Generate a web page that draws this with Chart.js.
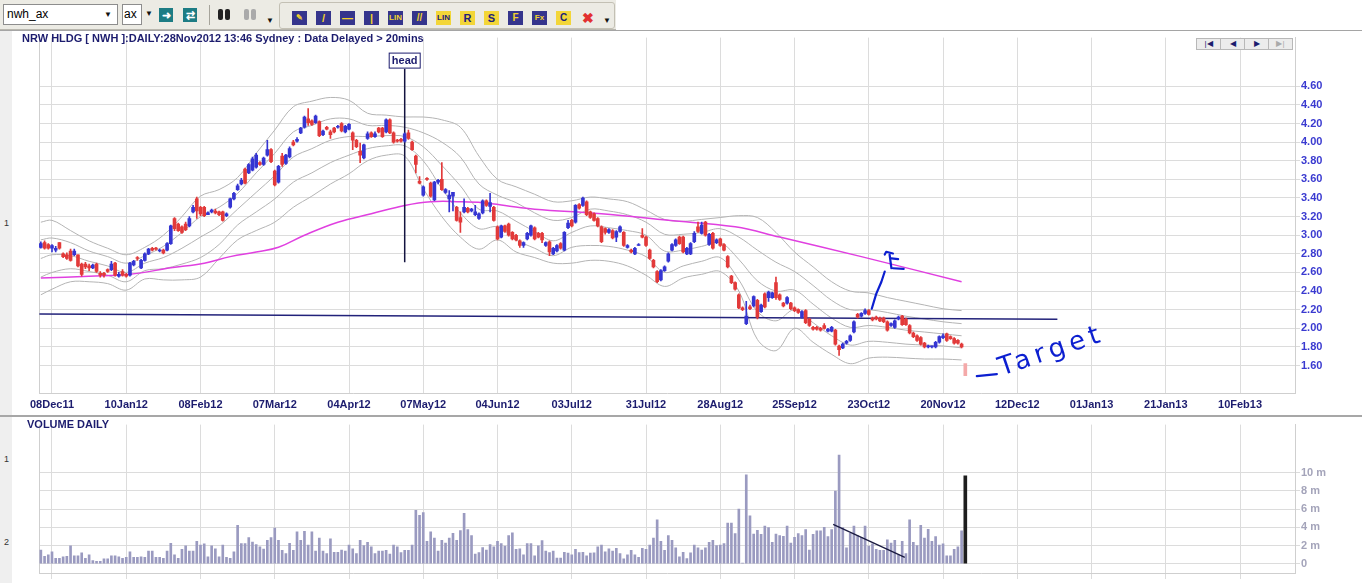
<!DOCTYPE html>
<html>
<head>
<meta charset="utf-8">
<title>NRW HLDG daily</title>
<script src="https://cdn.jsdelivr.net/npm/chart.js@4.4.1/dist/chart.umd.min.js"></script>
<style>
  body { margin:0; width:1362px; height:583px; overflow:hidden; background:#fff; position:relative;
         font-family:"Liberation Sans", Arial, sans-serif; }
  .abs { position:absolute; }
  #toolbar { left:0; top:0; width:616px; height:29px; background:#ecebe4; border-bottom:1px solid #b9b7ae; }
  .box { background:#fff; border:1px solid #8d8d8d; font-size:12px; line-height:19px; height:19px; top:4px; color:#000; }
  .drop { font-size:8px; color:#111; }
  .btn { top:8px; width:14px; height:14px; font-size:11px; font-weight:bold; line-height:14px; text-align:center; }
  .teal { background:#1d7c84; color:#fff; }
  .ico { top:8px; width:15px; height:14px; font-size:8px; font-weight:bold; line-height:14px; text-align:center; }
  .navy { background:#35358c; color:#f2d22c; }
  .yel { background:#f3d638; color:#20207a; }
  #group2 { left:279px; top:2px; width:334px; height:25px; border:1px solid #c3c0b4; border-radius:3px; }
  #strip { left:0; top:31px; width:12px; height:552px; background:#efefef; }
  .side { font-size:9px; color:#333; left:4px; }
  #topline { left:0; top:30px; width:1362px; height:1px; background:#a5a5a5; }
  #sep { left:0; top:415px; width:1362px; height:2px; background:#a7a7a7; }
  #title { left:22px; top:32px; font-size:11px; font-weight:bold; color:#1c1c6e; white-space:nowrap; }
  #voltitle { left:27px; top:418px; font-size:11px; font-weight:bold; color:#1c1c6e; }
  #nav { left:1197px; top:32px; height:10px; }
  #nav span { display:inline-block; width:23px; height:10px; border:1px solid #b8b8b8; margin-left:-1px;
              background:#ececec; font-size:8px; line-height:10px; text-align:center; color:#1c1c6e; }
  canvas { position:absolute; left:0; }
</style>
</head>
<body>

<div id="toolbar" class="abs">
  <div class="abs box" style="left:3px;width:110px;padding-left:3px">nwh_ax<span class="abs drop" style="left:100px;top:0">&#9660;</span></div>
  <div class="abs box" style="left:122px;width:17px;padding-left:1px">ax</div>
  <div class="abs drop" style="left:145px;top:9px">&#9660;</div>
  <div class="abs btn teal" style="left:159px">&#10140;</div>
  <div class="abs btn teal" style="left:183px">&#8644;</div>
  <div class="abs" style="left:209px;top:5px;width:1px;height:20px;background:#a6a49b"></div>
  <div class="abs" style="left:218px;top:9px;width:5px;height:11px;background:#222;border-radius:2px"></div>
  <div class="abs" style="left:225px;top:9px;width:5px;height:11px;background:#222;border-radius:2px"></div>
  <div class="abs" style="left:244px;top:9px;width:5px;height:11px;background:#aaa;border-radius:2px"></div>
  <div class="abs" style="left:251px;top:9px;width:5px;height:11px;background:#aaa;border-radius:2px"></div>
  <div class="abs drop" style="left:266px;top:16px">&#9660;</div>
  <div id="group2" class="abs">
    <div class="abs ico navy" style="left:12px">&#9998;</div>
    <div class="abs ico navy" style="left:36px;font-size:11px">/</div>
    <div class="abs ico navy" style="left:60px;font-size:11px">&#8212;</div>
    <div class="abs ico navy" style="left:84px;font-size:11px">|</div>
    <div class="abs ico navy" style="left:108px">LIN</div>
    <div class="abs ico navy" style="left:132px;font-size:10px">//</div>
    <div class="abs ico yel" style="left:156px">LIN</div>
    <div class="abs ico yel" style="left:180px;font-size:11px">R</div>
    <div class="abs ico yel" style="left:204px;font-size:11px">S</div>
    <div class="abs ico navy" style="left:228px;font-size:10px">F</div>
    <div class="abs ico navy" style="left:252px">Fx</div>
    <div class="abs ico yel" style="left:276px;font-size:10px">C</div>
    <div class="abs ico" style="left:300px;color:#e23030;font-size:14px">&#10006;</div>
    <div class="abs drop" style="left:323px;top:13px">&#9660;</div>
  </div>
</div>

<div id="strip" class="abs"></div>
<div class="abs side" style="top:218px">1</div>
<div class="abs side" style="top:454px">1</div>
<div class="abs side" style="top:537px">2</div>

<canvas id="priceChart" width="1362" height="386" style="top:30px"></canvas>
<canvas id="volChart" width="1362" height="166" style="top:417px"></canvas>

<div id="topline" class="abs"></div>
<div id="sep" class="abs"></div>
<div id="title" class="abs">NRW HLDG [ NWH ]:DAILY:28Nov2012 13:46 Sydney : Data Delayed &gt; 20mins</div>
<div id="voltitle" class="abs">VOLUME DAILY</div>
<div id="nav" class="abs"><span>|&#9664;</span><span>&#9664;</span><span>&#9654;</span><span style="color:#aaa">&#9654;|</span></div>

<script>
// ---- data (x = trading day, 0 = 08Dec11) ----
const firstDay = -3;

const opens = [
  2.87,2.92,2.90,2.86,2.84,2.92,2.80,2.79,2.83,2.79,
  2.79,2.69,2.69,2.67,2.65,2.69,2.59,2.59,2.63,2.63,
  2.70,2.56,2.61,2.58,2.57,2.68,2.76,2.65,2.73,2.80,
  2.86,2.86,2.83,2.84,2.84,2.91,3.18,3.12,3.09,3.12,
  3.10,3.25,3.39,3.30,3.30,3.22,3.25,3.26,3.25,3.25,
  3.21,3.30,3.39,3.49,3.55,3.71,3.67,3.70,3.73,3.78,
  3.76,3.86,3.92,3.69,3.57,3.85,3.77,3.84,4.00,4.01,
  4.10,4.16,4.25,4.23,4.21,4.22,4.08,4.16,4.11,4.15,
  4.16,4.20,4.11,4.14,4.10,4.02,3.90,3.83,4.04,4.10,
  4.06,4.15,4.15,4.11,4.24,4.10,4.02,4.03,4.01,4.10,
  4.00,3.85,3.58,3.43,3.61,3.56,3.38,3.57,3.60,3.46,
  3.39,3.42,3.30,3.19,3.25,3.29,3.26,3.22,3.18,3.24,
  3.37,3.31,3.30,3.09,2.98,3.10,3.12,3.03,3.00,2.94,
  2.89,2.96,3.00,3.08,3.02,3.02,2.89,2.93,2.80,2.83,
  2.91,2.84,3.08,3.16,3.14,3.33,3.32,3.36,3.25,3.23,
  3.18,3.09,3.07,3.03,3.05,2.98,3.04,3.03,2.87,2.84,
  2.80,2.89,3.00,2.98,2.84,2.73,2.61,2.52,2.62,2.72,
  2.84,2.89,2.98,2.98,2.80,2.80,2.93,3.09,3.02,3.14,
  2.90,3.02,2.92,2.96,2.90,2.77,2.56,2.49,2.36,2.22,
  2.05,2.23,2.24,2.30,2.18,2.37,2.33,2.33,2.49,2.36,
  2.27,2.27,2.27,2.22,2.20,2.12,2.19,2.10,2.01,2.01,
  2.00,2.03,1.97,1.97,1.98,1.81,1.79,1.84,1.87,1.96,
  2.15,2.13,2.16,2.19,2.11,2.12,2.11,2.11,2.07,2.03,
  2.01,2.10,2.13,2.10,2.03,1.95,1.92,1.90,1.84,1.80,
  1.80,1.80,1.85,1.90,1.94,1.91,1.89,1.87,1.83
];
const highs = [
  2.93,2.94,2.91,2.90,2.88,2.92,2.81,2.81,2.85,2.85,
  2.79,2.70,2.71,2.69,2.69,2.70,2.61,2.60,2.64,2.72,
  2.71,2.60,2.63,2.59,2.71,2.73,2.77,2.74,2.81,2.86,
  2.87,2.87,2.85,2.85,2.92,3.11,3.19,3.13,3.10,3.14,
  3.20,3.32,3.41,3.31,3.31,3.25,3.28,3.28,3.26,3.26,
  3.24,3.40,3.46,3.55,3.61,3.72,3.77,3.84,3.88,3.79,
  3.84,4.02,3.93,3.70,3.75,3.88,3.87,3.95,4.02,4.05,
  4.16,4.28,4.36,4.24,4.29,4.23,4.13,4.17,4.13,4.16,
  4.18,4.21,4.18,4.20,4.11,4.03,3.99,3.98,4.11,4.11,
  4.11,4.16,4.16,4.25,4.25,4.11,4.03,4.04,4.10,4.13,
  4.01,3.86,3.63,3.53,3.62,3.57,3.58,3.60,3.78,3.50,
  3.48,3.46,3.31,3.25,3.39,3.30,3.29,3.32,3.24,3.38,
  3.38,3.45,3.31,3.10,3.11,3.11,3.13,3.04,3.01,2.95,
  2.93,3.03,3.11,3.09,3.03,3.03,2.93,2.94,2.87,2.90,
  2.92,3.04,3.16,3.17,3.33,3.34,3.41,3.37,3.26,3.24,
  3.19,3.10,3.08,3.07,3.06,3.05,3.10,3.04,2.90,2.85,
  2.87,2.91,3.07,2.99,2.85,2.74,2.62,2.63,2.67,2.81,
  2.91,2.96,2.99,2.99,2.87,2.92,3.04,3.14,3.14,3.15,
  3.02,3.03,2.96,2.97,2.91,2.78,2.57,2.50,2.37,2.23,
  2.29,2.25,2.35,2.31,2.26,2.38,2.40,2.39,2.55,2.37,
  2.28,2.34,2.28,2.23,2.21,2.19,2.20,2.11,2.02,2.02,
  2.01,2.05,2.00,2.02,1.99,1.82,1.84,1.87,1.93,2.08,
  2.16,2.17,2.21,2.20,2.12,2.13,2.12,2.12,2.08,2.06,
  2.09,2.13,2.14,2.11,2.04,1.96,1.93,1.91,1.85,1.82,
  1.81,1.86,1.92,1.94,1.95,1.92,1.90,1.88,1.84
];
const lows = [
  2.86,2.85,2.85,2.82,2.82,2.85,2.76,2.74,2.72,2.78,
  2.66,2.56,2.64,2.62,2.64,2.60,2.55,2.55,2.60,2.62,
  2.56,2.55,2.56,2.55,2.56,2.67,2.73,2.64,2.72,2.79,
  2.83,2.84,2.82,2.80,2.83,2.90,3.05,3.04,3.02,3.05,
  3.09,3.24,3.18,3.21,3.20,3.22,3.24,3.23,3.21,3.15,
  3.20,3.29,3.38,3.48,3.54,3.55,3.66,3.69,3.72,3.75,
  3.75,3.85,3.78,3.53,3.56,3.74,3.76,3.83,3.96,4.00,
  4.09,4.15,4.18,4.18,4.20,4.06,4.07,4.13,4.04,4.10,
  4.15,4.11,4.10,4.13,3.92,3.94,3.78,3.82,4.03,4.05,
  4.05,4.10,4.05,4.10,4.09,3.99,4.00,4.00,4.00,4.03,
  3.91,3.67,3.55,3.42,3.59,3.41,3.37,3.55,3.48,3.45,
  3.25,3.26,3.15,3.03,3.24,3.24,3.25,3.21,3.17,3.23,
  3.31,3.25,3.15,2.95,2.97,3.03,2.99,2.95,2.94,2.87,
  2.87,2.95,2.99,2.95,2.97,2.92,2.88,2.78,2.79,2.82,
  2.85,2.83,3.07,3.09,3.13,3.28,3.31,3.21,3.18,3.15,
  3.09,2.92,3.01,3.02,2.96,2.93,3.03,2.88,2.86,2.81,
  2.79,2.89,2.97,2.88,2.74,2.65,2.49,2.51,2.61,2.71,
  2.83,2.88,2.90,2.81,2.79,2.79,2.92,3.03,3.01,2.99,
  2.89,2.85,2.91,2.88,2.83,2.65,2.48,2.41,2.21,2.19,
  2.04,2.20,2.23,2.10,2.17,2.22,2.29,2.32,2.31,2.30,
  2.23,2.26,2.20,2.18,2.16,2.11,2.05,2.02,1.98,1.98,
  1.97,1.99,1.96,1.96,1.82,1.71,1.78,1.83,1.86,1.95,
  2.11,2.12,2.15,2.14,2.08,2.09,2.07,2.06,1.97,2.02,
  2.00,2.09,2.03,2.03,1.94,1.90,1.86,1.82,1.79,1.79,
  1.79,1.79,1.84,1.89,1.86,1.88,1.83,1.83,1.79
];
const closes = [
  2.91,2.86,2.86,2.89,2.86,2.86,2.77,2.75,2.73,2.83,
  2.67,2.58,2.66,2.65,2.68,2.61,2.57,2.57,2.61,2.69,
  2.57,2.58,2.57,2.56,2.70,2.72,2.75,2.73,2.80,2.85,
  2.84,2.85,2.84,2.81,2.91,3.10,3.07,3.05,3.03,3.06,
  3.18,3.30,3.26,3.23,3.21,3.24,3.27,3.24,3.22,3.16,
  3.23,3.39,3.45,3.53,3.59,3.56,3.76,3.82,3.86,3.76,
  3.83,3.92,3.79,3.54,3.74,3.76,3.86,3.93,3.97,4.03,
  4.15,4.27,4.21,4.19,4.28,4.07,4.12,4.14,4.08,4.11,
  4.17,4.12,4.17,4.19,4.02,3.95,3.86,3.97,4.09,4.06,
  4.09,4.11,4.06,4.24,4.10,4.00,4.01,4.01,4.09,4.04,
  3.92,3.76,3.56,3.52,3.60,3.42,3.57,3.59,3.49,3.49,
  3.43,3.46,3.16,3.14,3.30,3.25,3.28,3.25,3.23,3.37,
  3.32,3.35,3.16,2.96,3.10,3.04,3.00,2.96,2.95,2.89,
  2.92,3.02,3.10,2.96,2.98,2.95,2.92,2.82,2.86,2.89,
  2.86,3.03,3.13,3.10,3.32,3.29,3.40,3.22,3.19,3.16,
  3.10,2.93,3.03,3.06,2.97,3.04,3.09,2.89,2.89,2.82,
  2.86,2.90,2.98,2.89,2.75,2.66,2.50,2.62,2.66,2.80,
  2.90,2.95,2.91,2.82,2.86,2.91,3.02,3.04,3.11,3.00,
  3.01,2.86,2.95,2.89,2.84,2.66,2.49,2.42,2.22,2.20,
  2.13,2.21,2.34,2.12,2.25,2.23,2.39,2.38,2.33,2.31,
  2.24,2.33,2.21,2.19,2.17,2.18,2.06,2.03,1.99,1.99,
  1.98,2.00,1.99,2.01,1.83,1.77,1.83,1.86,1.92,2.07,
  2.12,2.16,2.19,2.15,2.09,2.10,2.08,2.07,1.98,2.05,
  2.08,2.12,2.04,2.04,1.95,1.91,1.87,1.83,1.80,1.81,
  1.81,1.85,1.91,1.92,1.87,1.89,1.84,1.84,1.80
];
// daily volume in millions
const volumes = [
  1.51,0.81,0.98,1.30,0.60,0.60,0.77,0.81,1.97,0.88,
  0.88,1.19,0.60,0.98,0.35,0.25,0.25,0.53,0.53,0.88,
  0.88,0.77,0.60,0.70,1.30,0.70,0.70,0.77,0.70,1.40,
  1.40,0.70,0.70,0.60,1.40,2.25,0.98,0.60,1.58,1.97,
  1.40,1.40,2.46,2.04,2.18,0.77,1.97,1.65,0.77,2.04,
  0.70,0.60,1.30,4.21,2.21,2.21,2.88,2.39,2.11,1.86,
  1.62,2.56,2.88,3.93,2.56,1.47,1.12,2.25,1.47,3.51,
  2.56,3.56,2.04,3.51,1.40,2.81,1.40,1.12,2.74,1.26,
  1.26,1.51,1.40,2.04,1.65,1.12,2.56,2.00,2.35,1.86,
  1.12,1.40,1.40,1.47,1.05,2.04,1.86,1.23,1.47,1.47,
  2.04,5.86,5.33,5.61,2.46,3.51,2.81,1.40,2.56,2.28,
  2.81,3.33,2.56,3.63,5.54,3.74,3.09,1.05,1.23,1.77,
  1.51,2.11,1.86,2.46,2.21,1.93,3.09,3.40,1.58,1.65,
  0.98,2.21,2.21,0.88,1.97,2.53,1.40,1.23,1.40,0.63,
  0.63,1.26,1.16,0.98,1.58,1.23,1.26,0.88,1.16,1.19,
  1.86,2.04,1.30,1.65,1.40,1.68,1.12,0.53,0.98,1.47,
  0.98,0.70,1.68,1.58,2.04,2.81,4.81,2.46,1.47,3.09,
  2.56,1.75,0.77,1.26,0.56,1.19,2.04,1.75,1.51,1.75,
  2.35,2.56,2.00,2.04,2.21,4.46,4.46,3.30,6.00,0.07,
  9.76,5.26,3.26,3.68,3.23,4.14,3.97,2.35,3.26,3.09,
  3.02,4.14,2.28,2.91,3.30,3.09,3.74,1.51,3.23,3.61,
  3.61,4.00,2.98,3.74,7.97,11.93,3.97,1.75,3.33,4.14,
  3.09,2.91,4.14,1.93,2.18,1.58,1.47,1.47,2.63,2.28,
  2.56,0.98,2.46,1.12,4.81,2.35,2.00,4.21,2.81,3.79,
  2.46,2.98,2.04,2.18,0.88,0.88,1.58,1.86,3.61
];

// gray envelope lines, sampled every 5 days
const bandIdx = [-3,0,5,10,15,20,25,30,35,40,45,50,55,60,65,70,75,80,85,90,95,100,105,110,115,120,
  125,130,135,140,145,150,155,160,165,170,175,180,185,190,195,200,205,210,215,220,225,230,235,240,245];
const bandUpper = [3.14,3.16,3.05,2.94,2.86,2.79,2.87,3.00,3.20,3.42,3.49,3.62,3.88,4.13,4.38,4.44,4.48,4.45,
  4.31,4.29,4.27,4.27,4.24,4.16,3.85,3.60,3.52,3.44,3.36,3.37,3.41,3.39,3.36,3.27,3.17,3.15,3.17,3.19,3.21,
  3.19,3.03,2.82,2.66,2.50,2.40,2.38,2.33,2.29,2.25,2.21,2.19];
const bandUpperInner = [2.95,2.97,2.92,2.83,2.77,2.70,2.78,2.88,3.03,3.20,3.30,3.45,3.67,3.88,4.11,4.18,4.25,
  4.25,4.18,4.18,4.16,4.10,4.00,3.84,3.55,3.43,3.35,3.24,3.16,3.19,3.28,3.26,3.22,3.14,3.01,3.01,3.03,3.07,
  2.98,2.84,2.71,2.61,2.46,2.30,2.20,2.20,2.17,2.13,2.10,2.07,2.05];
const bandMid = [2.75,2.79,2.78,2.72,2.67,2.60,2.70,2.76,2.86,2.98,3.10,3.28,3.46,3.64,3.84,3.93,4.02,4.06,
  4.06,4.07,4.06,3.95,3.75,3.53,3.28,3.26,3.15,3.04,2.94,3.03,3.10,3.08,3.05,3.00,2.83,2.84,2.88,2.92,2.74,
  2.51,2.40,2.41,2.26,2.11,2.01,2.03,2.01,1.98,1.96,1.94,1.92];
const bandLowerInner = [2.55,2.60,2.64,2.61,2.57,2.50,2.62,2.64,2.69,2.76,2.90,3.11,3.25,3.39,3.57,3.67,3.78,
  3.86,3.93,3.96,3.96,3.80,3.50,3.24,3.07,3.09,2.95,2.86,2.78,2.87,2.89,2.88,2.84,2.77,2.60,2.67,2.72,2.76,
  2.52,2.18,2.08,2.20,2.06,1.92,1.82,1.86,1.85,1.83,1.82,1.81,1.79];
const bandLower = [2.36,2.42,2.50,2.50,2.48,2.41,2.53,2.52,2.52,2.55,2.75,2.95,3.05,3.14,3.30,3.42,3.55,3.66,
  3.80,3.86,3.85,3.50,3.20,2.98,2.85,2.95,2.82,2.76,2.70,2.70,2.73,2.72,2.67,2.57,2.45,2.54,2.58,2.61,2.40,
  1.88,1.76,2.00,1.85,1.72,1.62,1.68,1.69,1.68,1.67,1.67,1.66];

// long moving average (magenta)
const maIdx = [-3,10,21,32,41,48,55,61,68,77,86,95,102,110,116,122,130,148,166,184,196,218,245];
const maValues = [2.54,2.56,2.58,2.65,2.70,2.77,2.82,2.87,3.00,3.14,3.23,3.32,3.36,3.36,3.35,3.32,3.28,3.23,
  3.16,3.09,2.98,2.77,2.50];

// drawn lines
const neckIdx = [-3.4, 270.8];
const neckPrice = [2.153, 2.097];
const headIdx = 95.0;
const headPrice = [2.71, 4.79];
const volTrendIdx = [210.4, 229.7];
const volTrendValues = [4.32, 0.69];
const markerIdx = 246;
const markerPrice = [1.49, 1.62];
const markerVolume = 9.65;

// axis ticks
const xTickLabels = ['08Dec11','10Jan12','08Feb12','07Mar12','04Apr12','07May12','04Jun12','03Jul12',
  '31Jul12','28Aug12','25Sep12','23Oct12','20Nov12','12Dec12','01Jan13','21Jan13','10Feb13'];
const labelStep = 20;
const priceTicks = [1.6,1.8,2.0,2.2,2.4,2.6,2.8,3.0,3.2,3.4,3.6,3.8,4.0,4.2,4.4,4.6];
const volumeTicks = [0,2,4,6,8,10];

// hand-drawn marks, in [day, price]
const handStrokes = [
  [[249.1,1.486],[254.5,1.507]],
  [[220.8,2.21],[222.0,2.37],[223.4,2.50],[224.3,2.61]],
  [[224.3,2.793],[224.7,2.822],[226.5,2.804]],
  [[225.6,2.793],[226.1,2.645]],
  [[226.1,2.751],[227.9,2.744]],
  [[226.5,2.645],[229.4,2.638]]
];
const targetAt = [255.8, 1.49];

// ---- styling ----
Chart.defaults.font.family = '"Liberation Sans", Arial, sans-serif';
const upColor = '#3535d2';
const downColor = '#e23a3a';
const gridColor = '#dcdcdc';
const inkBlue = '#0c1fd0';
const navy = '#1c1c6e';

const days = opens.map((_, i) => firstDay + i);
const candleColors = closes.map((c, i) => c >= opens[i] ? upColor : downColor);

function pts(xs, ys){ return xs.map((x, i) => ({ x: x, y: ys[i] })); }

function bandLine(values){
    return { type: 'line', data: pts(bandIdx, values), borderColor: '#b4b4b4', borderWidth: 1,
             pointRadius: 0, tension: 0.35, order: 5 };
}

const xRange = { min: -3.5, max: 334.8 };

// left border + annotations
const extras = {
    id: 'extras',
    beforeDatasetsDraw(chart){
        const a = chart.chartArea, ctx = chart.ctx;
        ctx.save();
        ctx.strokeStyle = '#cfcfcf';
        ctx.lineWidth = 1;
        ctx.beginPath();
        ctx.moveTo(a.left + 0.5, a.top);
        ctx.lineTo(a.left + 0.5, a.bottom);
        ctx.stroke();
        ctx.restore();
    },
    afterDatasetsDraw(chart){
        if(chart.canvas.id !== 'priceChart') return;
        const ctx = chart.ctx, x = chart.scales.x, y = chart.scales.y;
        ctx.save();
        // head label box
        const hx = x.getPixelForValue(headIdx), hy = y.getPixelForValue(headPrice[1]);
        ctx.fillStyle = '#fff';
        ctx.strokeStyle = navy;
        ctx.lineWidth = 1;
        ctx.fillRect(hx - 16, hy - 16, 32, 16);
        ctx.strokeRect(hx - 15.5, hy - 15.5, 31, 15);
        ctx.fillStyle = navy;
        ctx.font = 'bold 11px "Liberation Sans", Arial, sans-serif';
        ctx.textAlign = 'center';
        ctx.textBaseline = 'middle';
        ctx.fillText('head', hx, hy - 8);
        // ink strokes
        ctx.strokeStyle = inkBlue;
        ctx.lineWidth = 2.2;
        ctx.lineCap = 'round';
        ctx.lineJoin = 'round';
        handStrokes.forEach(s => {
            ctx.beginPath();
            s.forEach((p, k) => {
                const px = x.getPixelForValue(p[0]), py = y.getPixelForValue(p[1]);
                if(k) ctx.lineTo(px, py); else ctx.moveTo(px, py);
            });
            ctx.stroke();
        });
        ctx.translate(x.getPixelForValue(targetAt[0]), y.getPixelForValue(targetAt[1]));
        ctx.rotate(-0.33);
        ctx.fillStyle = inkBlue;
        ctx.font = '26px "DejaVu Sans", sans-serif';
        ctx.textAlign = 'left';
        ctx.textBaseline = 'alphabetic';
        ctx.letterSpacing = '5px';
        ctx.fillText('Target', 0, 0);
        ctx.restore();
    }
};

// ---- price panel ----
new Chart(document.getElementById('priceChart'), {
    type: 'bar',
    data: {
        datasets: [
            { type: 'bar', data: days.map((d, i) => ({ x: d, y: [opens[i], closes[i]] })),
              backgroundColor: candleColors, barThickness: 3, minBarLength: 1, grouped: false, order: 0 },
            { type: 'bar', data: days.map((d, i) => ({ x: d, y: [lows[i], highs[i]] })),
              backgroundColor: candleColors, barThickness: 1, grouped: false, order: 1 },
            { type: 'bar', data: [{ x: markerIdx, y: markerPrice }],
              backgroundColor: '#f4a9a9', barThickness: 3, grouped: false, order: 0 },
            { type: 'line', data: pts(neckIdx, neckPrice), borderColor: '#22227a', borderWidth: 1.5,
              pointRadius: 0, order: 2 },
            { type: 'line', data: pts([headIdx, headIdx], headPrice), borderColor: '#141440', borderWidth: 1.5,
              pointRadius: 0, order: 2 },
            { type: 'line', data: pts(maIdx, maValues), borderColor: '#e040e0', borderWidth: 1.5,
              pointRadius: 0, tension: 0.4, order: 3 },
            bandLine(bandUpper), bandLine(bandUpperInner), bandLine(bandMid),
            bandLine(bandLowerInner), bandLine(bandLower)
        ]
    },
    options: {
        responsive: false,
        animation: false,
        layout: { padding: { left: 39, top: 3, right: 0, bottom: 0 } },
        plugins: { legend: { display: false }, tooltip: { enabled: false } },
        scales: {
            x: {
                type: 'linear', min: xRange.min, max: xRange.max, offset: false,
                afterBuildTicks: s => { s.ticks = xTickLabels.map((_, i) => ({ value: i * labelStep })); },
                afterFit: s => { s.height = 23; },
                ticks: { callback: v => xTickLabels[Math.round(v / labelStep)], autoSkip: false, maxRotation: 0,
                         padding: 5, color: navy, font: { size: 11, weight: 'bold' } },
                grid: { color: gridColor, drawTicks: false, offset: false },
                border: { color: '#cfcfcf' }
            },
            y: {
                position: 'right', min: 1.305, max: 5.123,
                afterBuildTicks: s => { s.ticks = priceTicks.map(v => ({ value: v })); },
                afterFit: s => { s.width = 67; },
                ticks: { callback: v => v.toFixed(2), padding: 1, color: '#3a3ad0',
                         font: { size: 11, weight: 'bold' } },
                grid: { color: gridColor, tickLength: 5 },
                border: { color: '#cfcfcf' }
            }
        }
    },
    plugins: [extras]
});

// ---- volume panel ----
new Chart(document.getElementById('volChart'), {
    type: 'bar',
    data: {
        datasets: [
            { type: 'line', data: pts(volTrendIdx, volTrendValues), borderColor: '#1a1a40', borderWidth: 1.3,
              pointRadius: 0, order: 0 },
            { type: 'bar', data: [{ x: markerIdx, y: markerVolume }], backgroundColor: '#1e1e1e',
              barThickness: 3, grouped: false, order: 1 },
            { type: 'bar', data: days.map((d, i) => ({ x: d, y: volumes[i] })), backgroundColor: '#9a9ac0',
              barThickness: 2, grouped: false, order: 2 }
        ]
    },
    options: {
        responsive: false,
        animation: false,
        layout: { padding: { left: 39, top: 1, right: 0, bottom: 0 } },
        plugins: { legend: { display: false }, tooltip: { enabled: false } },
        scales: {
            x: {
                type: 'linear', min: xRange.min, max: xRange.max, offset: false,
                afterBuildTicks: s => { s.ticks = xTickLabels.map((_, i) => ({ value: i * labelStep })); },
                afterFit: s => { s.height = 10; },
                ticks: { display: false },
                grid: { color: gridColor, tickLength: 6, offset: false },
                border: { color: '#cfcfcf' }
            },
            y: {
                position: 'right', min: -1.02, max: 15.29,
                afterBuildTicks: s => { s.ticks = volumeTicks.map(v => ({ value: v })); },
                afterFit: s => { s.width = 67; },
                ticks: { callback: v => v === 0 ? '0' : v + ' m', padding: 1, color: '#a4a4ba',
                         font: { size: 11, weight: 'bold' } },
                grid: { color: gridColor, tickLength: 5 },
                border: { color: '#cfcfcf' }
            }
        }
    },
    plugins: [extras]
});
</script>
</body>
</html>
